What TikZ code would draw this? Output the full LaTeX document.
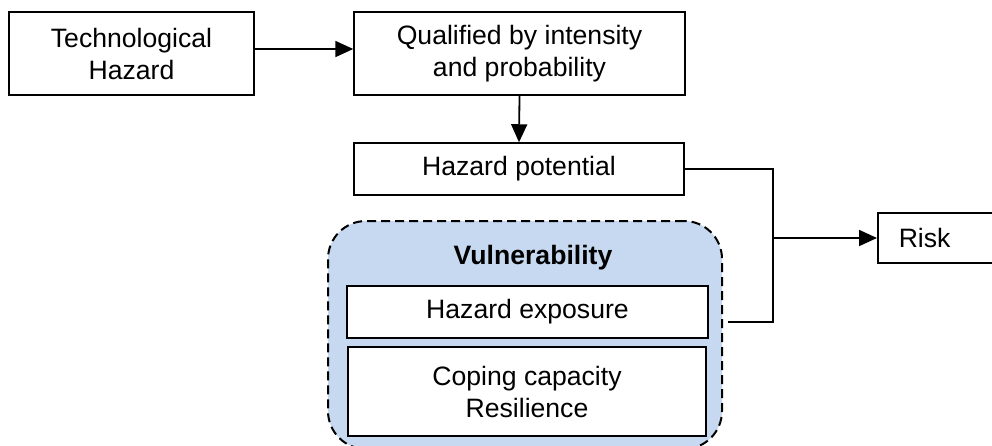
\documentclass[tikz,border=0pt]{standalone}
\usepackage{fontspec}
\setmainfont{Liberation Sans}
\usetikzlibrary{arrows.meta}
\definecolor{vulblue}{HTML}{C6D9F0}
\begin{document}
\begin{tikzpicture}[x=1pt,y=-1pt,
  every node/.style={font=\fontsize{26.6}{32}\selectfont},
  box/.style={draw=black, line width=1.5pt, fill=white, rectangle, inner sep=0pt, align=center},
  conn/.style={draw=black, line width=1.8pt},
  arr/.style={conn, -{Triangle[length=18pt,width=16pt]}}]
\useasboundingbox (0,0) rectangle (992,445);
\node[box, minimum width=245, minimum height=83] (tech) at (131.5,53.5) {Technological\\Hazard};
\node[box, minimum width=331, minimum height=83] (qual) at (519.5,53.5) {Qualified by intensity\\and probability};
\node[box, minimum width=330, minimum height=52] (pot) at (519,169) {Hazard potential};
\node[draw=black, line width=2pt, dash pattern=on 9pt off 5pt, fill=vulblue, rounded corners=38pt,
      minimum width=394, minimum height=228, inner sep=0pt] (vul) at (525,335) {};
\node[font=\fontsize{26.6}{32}\selectfont\bfseries] (vlab) at (533,258) {Vulnerability};
\node[box, minimum width=361, minimum height=52] (expo) at (527.5,312) {Hazard exposure};
\node[box, minimum width=358, minimum height=89] (cope) at (527,391.5) {Coping capacity\\Resilience};
\node[box, anchor=west, minimum height=50, inner xsep=21pt, text width=110pt, align=left] (risk) at (877,238) {Risk};
\coordinate (jx) at (773,238);
\coordinate (ebot) at (728,322);
\draw[arr] ([yshift=4.5pt]tech.east) -- ([yshift=4.5pt]qual.west);
\draw[arr] (qual.south) -- (pot.north);
\draw[conn] (pot.east) -| (jx) |- (ebot);
\draw[arr] (jx) -- (risk.west);
\end{tikzpicture}
\end{document}
